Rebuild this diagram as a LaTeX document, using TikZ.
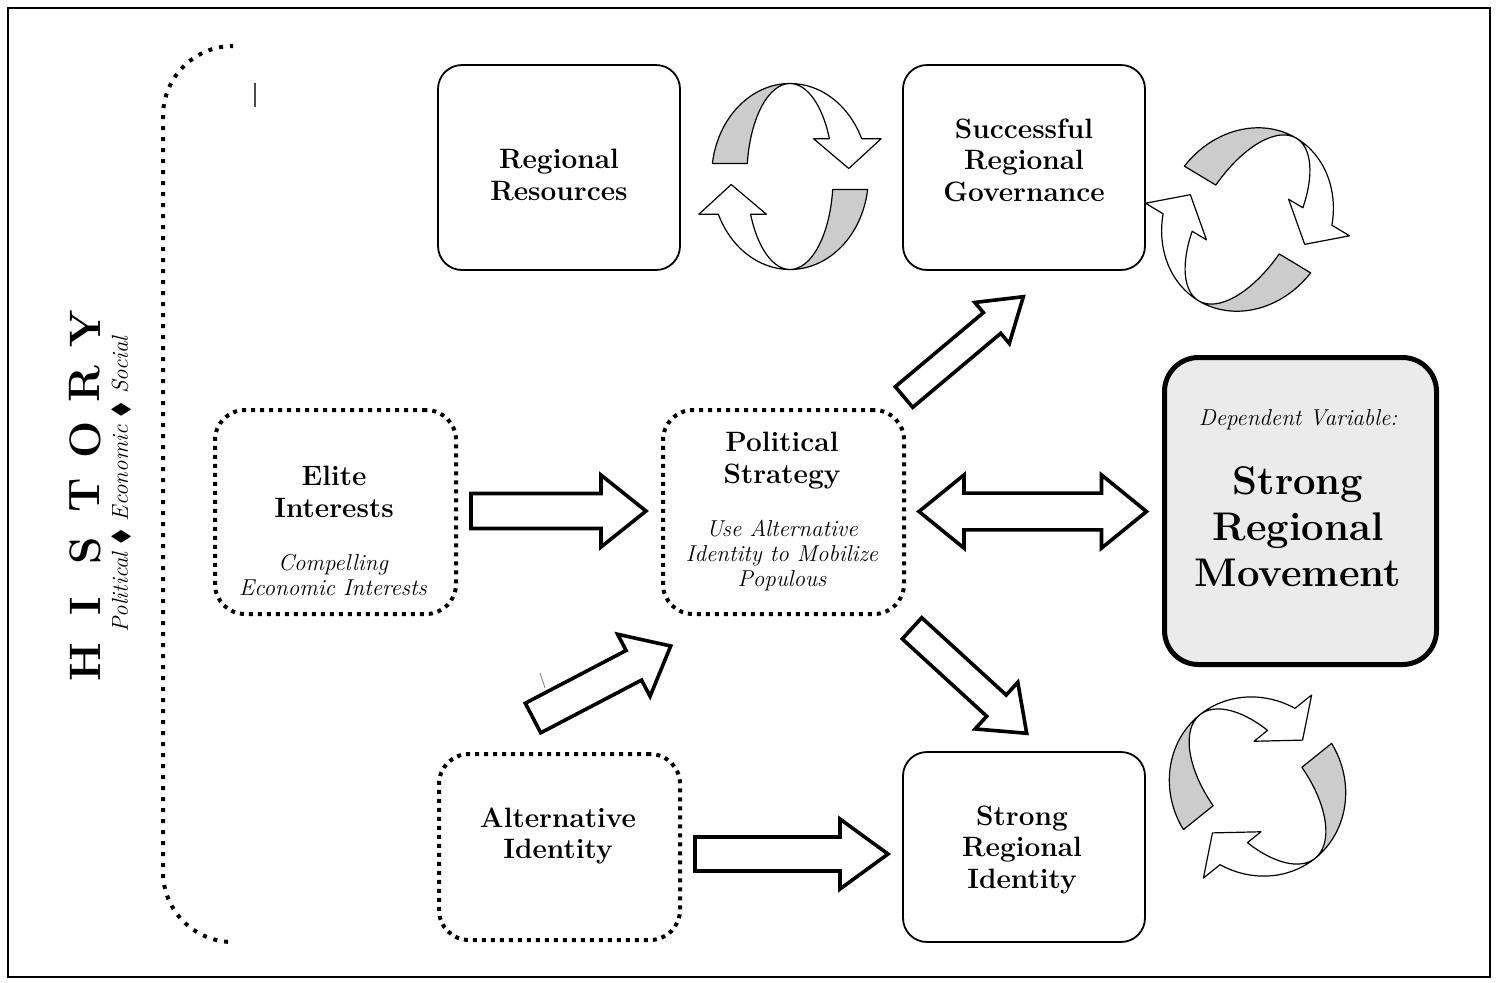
\documentclass[tikz,border=0pt]{standalone}
\usepackage{amssymb}
\usetikzlibrary{calc}

% block arrow: from, to, half shaft, half head, head length
\newcommand{\blockarrow}[5]{%
  \coordinate (ba) at ($(#2)!#5!(#1)$);
  \draw[blockarr] ($(#1)!#3!90:(#2)$) -- ($(ba)!#3!-90:(#1)$) -- ($(ba)!#4!-90:(#1)$) -- (#2)
    -- ($(ba)!#4!90:(#1)$) -- ($(ba)!#3!90:(#1)$) -- ($(#1)!#3!-90:(#2)$) -- cycle;
}
% double block arrow
\newcommand{\dblarrow}[5]{%
  \coordinate (aa) at ($(#1)!#5!(#2)$);
  \coordinate (ba) at ($(#2)!#5!(#1)$);
  \draw[blockarr] (#1) -- ($(aa)!#4!90:(#2)$) -- ($(aa)!#3!90:(#2)$) -- ($(ba)!#3!-90:(#1)$)
    -- ($(ba)!#4!-90:(#1)$) -- (#2) -- ($(ba)!#4!90:(#1)$) -- ($(ba)!#3!90:(#1)$)
    -- ($(aa)!#3!-90:(#2)$) -- ($(aa)!#4!-90:(#2)$) -- cycle;
}
% twisted cycle arrows: centre, rotation, xscale, yscale
\newcommand{\cycleicon}[4]{%
  \begin{scope}[shift={#1}, x=0.5pt, y=0.5pt, rotate=#2, xscale=#3, yscale=#4]
    \foreach \turn in {0,180}{
      \begin{scope}[rotate=\turn]
        \draw[ribbon, fill=black!20] (172:80 and 93) arc[start angle=172, end angle=90, x radius=80, y radius=93]
          arc[start angle=90, end angle=172, x radius=44, y radius=93] -- cycle;
        \draw[ribbon, fill=white] (0,93) arc[start angle=90, end angle=24, x radius=80, y radius=93]
          -- (93,37.8) -- (60,8) -- (24,37.8) -- (24:44 and 93)
          arc[start angle=24, end angle=90, x radius=44, y radius=93] -- cycle;
      \end{scope}}
  \end{scope}}

\begin{document}
\begin{tikzpicture}[x=0.5pt, y=-0.5pt,
  box/.style = {draw, line width=0.9pt, rounded corners=12pt, minimum width=121pt, inner sep=0pt},
  dotbox/.style = {draw, line width=2pt, dash pattern=on 2pt off 2.5pt, rounded corners=15pt, minimum width=120.5pt, inner sep=0pt},
  depbox/.style = {draw, line width=2.5pt, rounded corners=17pt, fill=black!8, minimum width=136pt, minimum height=153.5pt, inner sep=0pt},
  title/.style = {font=\fontsize{14}{15.75}\selectfont\bfseries, align=center, inner sep=0pt},
  note/.style = {font=\fontsize{11.5}{12.5}\selectfont\itshape, align=center, inner sep=0pt},
  bigtitle/.style = {font=\fontsize{20}{23}\selectfont\bfseries, align=center, inner sep=0pt},
  hist/.style = {font=\fontsize{22}{22}\selectfont\bfseries, rotate=90, inner sep=0pt},
  histsub/.style = {font=\fontsize{11.5}{12}\selectfont\itshape, rotate=90, inner sep=0pt},
  blockarr/.style = {draw, line width=1.8pt, fill=white, line join=miter},
  ribbon/.style = {draw, line width=0.6pt, line join=round},
  bracket/.style = {line width=2pt, dash pattern=on 2pt off 3.5pt}]
  \useasboundingbox (0,0) rectangle (1499,982);
  \draw[line width=0.8pt] (8,8) rectangle (1490,977);

  % history
  \foreach \l [count=\i from 0] in {H,I,S,T,O,R,Y}
    \node[hist] (h\i) at (85,{662-55.5*\i}) {\l};
  \node[histsub] (hsub) at (121,484.5) {Political $\blacklozenge$ Economic $\blacklozenge$ Social};
  \draw[bracket, rounded corners=35pt] (232,46) -- (163,46) -- (163,942) -- (232,942);
  \draw[black!70, line width=1pt] (255,83) -- (255,107);
  \draw[black!50, line width=0.4pt] (540,673) -- (545,688);

  % boxes
  \node[box, minimum height=102.5pt] (res) at (559,167.5) {};
  \node[box, minimum height=102.5pt] (gov) at (1024,167.5) {};
  \node[dotbox, minimum height=102pt] (elite) at (335.5,512) {};
  \node[dotbox, minimum height=102pt] (strat) at (783.5,512) {};
  \node[dotbox, minimum height=93pt] (alt) at (559.5,847) {};
  \node[box, minimum height=95pt] (ident) at (1024,847) {};
  \node[depbox] (dep) at (1300.5,511) {};

  \node[title] (restxt) at (559,175) {Regional\\Resources};
  \node[title] (govtxt) at (1024,160) {Successful\\Regional\\Governance};
  \node[title] (elitetxt) at (334,492) {Elite\\Interests};
  \node[note] (elitenote) at (333,575) {Compelling\\Economic Interests};
  \node[title] (strattxt) at (782,460.5) {Political\\Strategy};
  \node[note] (stratnote) at (782,556) {Use Alternative\\Identity to Mobilize\\Populous};
  \node[title] (alttxt) at (558,836) {Alternative\\Identity};
  \node[title] (identtxt) at (1022,850) {Strong\\Regional\\Identity};
  \node[note] (depnote) at (1298,420) {Dependent Variable:};
  \node[bigtitle] (deptxt) at (1298,527) {Strong\\Regional\\Movement};

  % block arrows
  \coordinate (e1) at (471,511);    \coordinate (e2) at (646,511);
  \coordinate (d1) at (919,511.5);  \coordinate (d2) at (1146.5,511.5);
  \coordinate (a1) at (695,854);    \coordinate (a2) at (888,854);
  \coordinate (u1) at (533,718);    \coordinate (u2) at (670.7,646);
  \coordinate (g1) at (904,397);    \coordinate (g2) at (1023.3,296.7);
  \coordinate (s1) at (912,628.3);  \coordinate (s2) at (1026.7,733.3);
  \blockarrow{e1}{e2}{8.75pt}{18pt}{22.5pt}
  \dblarrow{d1}{d2}{9.2pt}{18.3pt}{22.5pt}
  \blockarrow{a1}{a2}{8.5pt}{17.5pt}{24pt}
  \blockarrow{u1}{u2}{8.35pt}{17.5pt}{20.8pt}
  \blockarrow{g1}{g2}{6.75pt}{13.4pt}{20.4pt}
  \blockarrow{s1}{s2}{7.2pt}{15.8pt}{20.5pt}

  % cycles
  \cycleicon{(790,176.5)}{0}{0.98}{1}
  \cycleicon{(1247.5,219.5)}{-31}{1.03}{1.02}
  \cycleicon{(1257.5,786.5)}{38.8}{1.07}{0.99}
\end{tikzpicture}
\end{document}
